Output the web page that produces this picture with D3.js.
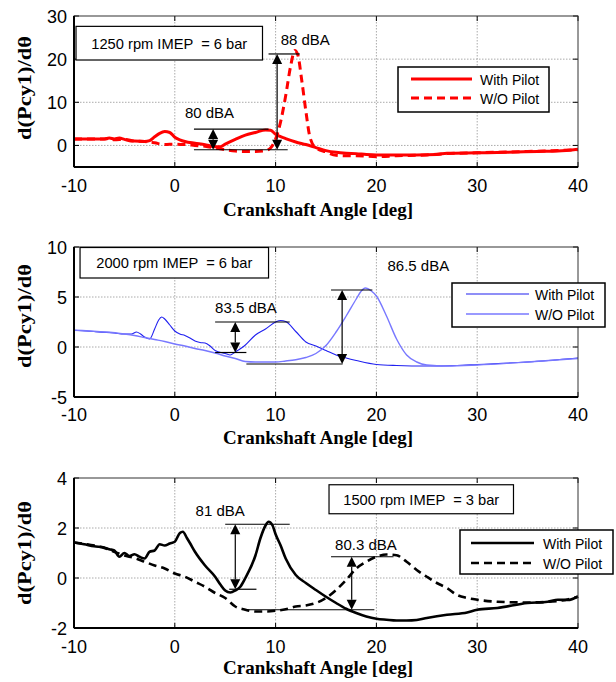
<!DOCTYPE html>
<html><head><meta charset="utf-8">
<script src="https://cdn.jsdelivr.net/npm/d3@7"></script>
<style>body{margin:0;background:#fff} text{white-space:pre}</style>
</head><body>
<svg id="c" width="616" height="682"></svg>
<script>
// ---------- DATA ----------
const xTickValues = [-10, 0, 10, 20, 30, 40];
const xTitle = "Crankshaft Angle [deg]";
const yTitle = "d(Pcy1)/dθ";
const legendLabels = ["With Pilot", "W/O Pilot"];

// Panel 1: 1250 rpm
const p1Title = "1250 rpm IMEP  = 6 bar";
const p1YTicks = [0, 10, 20, 30];
const p1WithAngle = [-10,-8,-7,-6.5,-6,-5.5,-5,-4.5,-4,-3,-2.5,-2,-1.5,-1,-0.5,0,0.5,1,2,3,3.5,4,4.5,5,6,7,8,9,9.5,10,11,12,13,14,15,16,17,18,19,20,22,24,26,27,30,33,36,38,40];
const p1WithVal   = [1.5,1.5,1.5,1.7,1.5,1.7,1.4,1.1,1.0,0.9,1.1,2.0,2.8,3.2,3.0,1.9,1.3,0.9,0.5,0.15,-0.1,-0.3,-0.3,0.3,1.4,2.4,3.0,3.6,3.5,2.6,1.6,0.8,0.2,-0.5,-1.2,-1.6,-1.8,-1.9,-2.1,-2.2,-2.2,-2.2,-2.1,-1.8,-1.7,-1.6,-1.4,-1.3,-0.9];
const p1WoAngle = [-10,-7,-6.5,-6,-5,-4,-3,-2,-1,0,1,2,3,4,5,6,7,8,9,9.5,10,10.5,11,11.5,11.9,12.2,12.6,13,13.4,14,15,16,17,18,20,22,25,27,30,35,40];
const p1WoVal   = [1.5,1.5,1.6,1.3,1.4,1.0,0.9,0.6,0.2,0.3,0.2,0,-0.2,-0.6,-1.0,-1.3,-1.4,-1.4,-1.2,-0.6,1.5,5.5,11.5,18.5,22,21,15,8,2,-0.6,-1.5,-2.3,-2.4,-2.4,-2.6,-2.4,-2.2,-1.9,-1.7,-1.4,-1.0];
const p1Notes = ["88 dBA", "80 dBA"];

// Panel 2: 2000 rpm
const p2Title = "2000 rpm IMEP  = 6 bar";
const p2YTicks = [-5, 0, 5, 10];
const p2WithAngle = [-10,-8,-6,-5,-4.3,-3.8,-3.4,-3,-2.5,-2,-1.6,-1.3,-1,-0.5,0,0.5,1,1.5,2,2.5,3,3.5,4,5,5.5,6,7,8,9,10,10.5,11,12,13,14,15,16,17,18,20,22,25,28,30,35,40];
const p2WithVal   = [1.67,1.55,1.4,1.3,1.3,1.5,1.3,1.0,0.8,1.8,2.7,3.0,2.8,2.2,1.6,1.3,1.15,0.9,0.6,0.45,0.4,0.1,-0.35,-0.65,-0.8,-0.5,0.2,1.2,1.8,2.5,2.65,2.55,1.55,0.5,0.1,-0.35,-0.8,-1.1,-1.35,-1.75,-1.85,-1.9,-1.85,-1.75,-1.5,-1.1];
const p2WoAngle = [-10,-5,-4,-3,-2,-1,0,1,2,3,4,5,6,7,8,10,11,12,13,14,15,16,17,18,18.5,18.9,19.5,20,21,22,23,24,25,27,30,35,40];
const p2WoVal   = [1.67,1.3,1.15,0.95,0.75,0.55,0.3,0.1,-0.15,-0.35,-0.6,-0.9,-1.15,-1.45,-1.5,-1.5,-1.4,-1.27,-1.05,-0.65,0.15,1.5,3.1,4.8,5.6,5.9,5.6,5.1,3.1,0.8,-0.8,-1.5,-1.8,-1.9,-1.8,-1.5,-1.15];
const p2Notes = ["86.5 dBA", "83.5 dBA"];

// Panel 3: 1500 rpm
const p3Title = "1500 rpm IMEP  = 3 bar";
const p3YTicks = [-2, 0, 2, 4];
const p3WithAngle = [-10,-9,-8,-7,-6.5,-6,-5.5,-5,-4.5,-4,-3.5,-3,-2.5,-2,-1.5,-1,-0.5,0,0.5,0.8,1.2,1.5,2,3,4,4.5,5,5.5,6,6.5,7,8,8.5,9,9.3,9.7,10,10.5,11,12,13,14,15,16,17,18,19,20,21,22,23,24,25,27,29,30,32,35,37,38,39,40];
const p3WithVal   = [1.42,1.35,1.27,1.22,1.15,1.1,0.85,1.0,0.88,0.95,0.85,0.78,1.05,1.1,1.35,1.3,1.38,1.45,1.8,1.85,1.6,1.4,1.05,0.5,0.05,-0.25,-0.5,-0.58,-0.5,-0.35,0,0.9,1.6,2.1,2.25,2.1,1.75,1.3,0.78,0.12,-0.2,-0.48,-0.75,-1.0,-1.23,-1.4,-1.54,-1.63,-1.67,-1.7,-1.7,-1.68,-1.6,-1.47,-1.38,-1.27,-1.2,-1.0,-0.95,-0.87,-0.88,-0.74];
const p3WoAngle = [-10,-7,-5,-4,-3,-2,-1,0,1,2,3,4,5,6,7,8,9,10,11,12,13,14,15,16,17,18,19,20,21,22,23,24,25,26,27,28,29,30,32,35,38,40];
const p3WoVal   = [1.42,1.2,0.9,0.8,0.65,0.5,0.38,0.18,0.05,-0.15,-0.35,-0.6,-0.8,-1.14,-1.27,-1.34,-1.34,-1.31,-1.25,-1.14,-1.1,-1.0,-0.8,-0.48,-0.08,0.38,0.65,0.85,0.94,0.91,0.65,0.32,0.05,-0.2,-0.4,-0.68,-0.8,-0.87,-0.95,-0.98,-0.92,-0.75];
const p3Notes = ["81 dBA", "80.3 dBA"];

// ---------- LAYOUT ----------
const L = 74, R = 578;
const svg = d3.select("#c");
const sansFont = "'Liberation Sans', Arial, sans-serif";
const serifFont = "'Liberation Serif', 'Times New Roman', serif";

const panels = [
  { top:16, bottom:167, domain:[-5,30], yTicks:p1YTicks, grid:[0,10,20],
    series:[{a:p1WithAngle,v:p1WithVal,color:"#ff0000",w:3,dash:null},
            {a:p1WoAngle,v:p1WoVal,color:"#ff0000",w:3,dash:"8,5"}],
    box:{x0:-9.8,x1:8.7,y0:27.6,y1:19.8,text:p1Title},
    legend:{x:398,y:67,w:151,h:45,l0:411,l1:472,tx:480,y1:79,y2:98,fs:14},
    notes:[{t:p1Notes[0],x:10.5,y:23.3},{t:p1Notes[1],x:1.0,y:6.3}],
    hl:[[9.3,12.4,21.2],[1.9,11.2,-1.0],[1.9,9.3,3.8]],
    arrows:[[10.15,21.2,-1.0],[3.8,3.8,-1.0]],
    tickBase:192, titleBase:216, yLabelC:88 },
  { top:247, bottom:397, domain:[-5,10], yTicks:p2YTicks, grid:[0,5],
    series:[{a:p2WithAngle,v:p2WithVal,color:"#2020f0",w:1.1,dash:null},
            {a:p2WoAngle,v:p2WoVal,color:"#7878ff",w:1.4,dash:null}],
    box:{x0:-9.4,x1:9.3,y0:9.95,y1:6.9,text:p2Title},
    legend:{x:452,y:283,w:153,h:44,l0:466,l1:529,tx:535,y1:294,y2:314,fs:14},
    notes:[{t:p2Notes[0],x:21.1,y:7.6},{t:p2Notes[1],x:4.0,y:3.45}],
    hl:[[4.0,11.4,2.5],[4.0,7.1,-0.55],[15.5,19.6,5.7],[7.1,16.65,-1.7]],
    arrows:[[6.0,2.5,-0.55],[16.6,5.7,-1.7]],
    tickBase:421, titleBase:444, yLabelC:316 },
  { top:478, bottom:628, domain:[-2,4], yTicks:p3YTicks, grid:[0,2],
    series:[{a:p3WithAngle,v:p3WithVal,color:"#000",w:2.6,dash:null},
            {a:p3WoAngle,v:p3WoVal,color:"#000",w:2.6,dash:"8,5"}],
    box:{x0:15.3,x1:33.6,y0:3.73,y1:2.57,text:p3Title},
    legend:{x:460,y:530,w:153,h:44,l0:471,l1:534,tx:543,y1:543,y2:563,fs:14},
    notes:[{t:p3Notes[0],x:2.06,y:2.5},{t:p3Notes[1],x:15.9,y:1.14}],
    hl:[[5.0,11.4,2.15],[5.4,8.1,-0.45],[15.5,21.7,0.85],[6.9,19.8,-1.27]],
    arrows:[[6.0,2.15,-0.45],[17.55,0.85,-1.27]],
    tickBase:653, titleBase:674, yLabelC:553 }
];

const x = d3.scaleLinear().domain([-10,40]).range([L,R]);

panels.forEach((p,pi)=>{
  const y = d3.scaleLinear().domain(p.domain).range([p.bottom,p.top]);
  const g = svg.append("g");

  // grid
  xTickValues.slice(1,-1).forEach(t=>{
    g.append("line").attr("x1",x(t)).attr("x2",x(t)).attr("y1",p.top).attr("y2",p.bottom)
      .attr("stroke","#aaa").attr("stroke-width",1).attr("stroke-dasharray","1.5,1.5");
  });
  p.grid.forEach(t=>{
    g.append("line").attr("x1",L).attr("x2",R).attr("y1",y(t)).attr("y2",y(t))
      .attr("stroke","#aaa").attr("stroke-width",1).attr("stroke-dasharray","1.5,1.5");
  });

  // ticks inward on four sides
  xTickValues.forEach(t=>{
    g.append("line").attr("x1",x(t)).attr("x2",x(t)).attr("y1",p.bottom).attr("y2",p.bottom-5).attr("stroke","#000");
    g.append("line").attr("x1",x(t)).attr("x2",x(t)).attr("y1",p.top).attr("y2",p.top+5).attr("stroke","#000");
  });
  p.yTicks.forEach(t=>{
    g.append("line").attr("x1",L).attr("x2",L+5).attr("y1",y(t)).attr("y2",y(t)).attr("stroke","#000");
    g.append("line").attr("x1",R).attr("x2",R-5).attr("y1",y(t)).attr("y2",y(t)).attr("stroke","#000");
  });

  // series
  p.series.forEach(s=>{
    const pts = s.a.map((a,i)=>[a,s.v[i]]);
    g.append("path").datum(pts)
      .attr("d", d3.line().x(d=>x(d[0])).y(d=>y(d[1])).curve(d3.curveMonotoneX))
      .attr("fill","none").attr("stroke",s.color).attr("stroke-width",s.w)
      .attr("stroke-dasharray",s.dash).attr("stroke-linejoin","round");
  });

  // frame
  g.append("rect").attr("x",L).attr("y",p.top).attr("width",R-L).attr("height",p.bottom-p.top)
    .attr("fill","none").attr("stroke","#333").attr("stroke-width",1);
  g.append("line").attr("x1",L).attr("x2",L).attr("y1",p.top).attr("y2",p.bottom).attr("stroke","#000").attr("stroke-width",2);
  g.append("line").attr("x1",L).attr("x2",R).attr("y1",p.bottom).attr("y2",p.bottom).attr("stroke","#000").attr("stroke-width",2);

  // tick labels
  xTickValues.forEach(t=>{
    g.append("text").attr("x",x(t)).attr("y",p.tickBase).attr("text-anchor","middle")
      .attr("font-family",sansFont).attr("font-size",18).text(String(t));
  });
  p.yTicks.forEach(t=>{
    g.append("text").attr("x",L-7).attr("y",y(t)+6.5).attr("text-anchor","end")
      .attr("font-family",sansFont).attr("font-size",18).text(String(t));
  });

  // axis titles
  g.append("text").attr("x",(L+R)/2-8).attr("y",p.titleBase).attr("text-anchor","middle")
    .attr("font-family",serifFont).attr("font-weight","bold").attr("font-size",19).text(xTitle);
  g.append("text").attr("transform",`translate(31,${p.yLabelC}) rotate(-90)`).attr("text-anchor","middle")
    .attr("font-family",serifFont).attr("font-weight","bold").attr("font-size",19)
    .attr("textLength",104).attr("lengthAdjust","spacingAndGlyphs").text(yTitle);

  // annotation lines
  p.hl.forEach(h=>{
    g.append("line").attr("x1",x(h[0])).attr("x2",x(h[1])).attr("y1",y(h[2])).attr("y2",y(h[2]))
      .attr("stroke","#000").attr("stroke-width",1.2);
  });
  p.arrows.forEach(a=>{
    const ax = x(a[0]), yt = y(a[1]), yb = y(a[2]);
    const hl = Math.min(10,(yb-yt)/2), hw = 5;
    g.append("line").attr("x1",ax).attr("x2",ax).attr("y1",yt+hl).attr("y2",yb-hl).attr("stroke","#000").attr("stroke-width",1.2);
    g.append("path").attr("d",`M${ax},${yt}L${ax-hw},${yt+hl}L${ax+hw},${yt+hl}Z`).attr("fill","#000");
    g.append("path").attr("d",`M${ax},${yb}L${ax-hw},${yb-hl}L${ax+hw},${yb-hl}Z`).attr("fill","#000");
  });
  p.notes.forEach(n=>{
    g.append("text").attr("x",x(n.x)).attr("y",y(n.y)).attr("font-family",sansFont)
      .attr("font-size",15).text(n.t);
  });

  // condition box
  const b = p.box;
  g.append("rect").attr("x",x(b.x0)).attr("y",y(b.y0)).attr("width",x(b.x1)-x(b.x0)).attr("height",y(b.y1)-y(b.y0))
    .attr("fill","#fff").attr("stroke","#000").attr("stroke-width",1.2);
  g.append("text").attr("x",(x(b.x0)+x(b.x1))/2).attr("y",(y(b.y0)+y(b.y1))/2+5.5).attr("text-anchor","middle")
    .attr("font-family",sansFont).attr("font-size",15).attr("textLength",156).attr("lengthAdjust","spacingAndGlyphs").text(b.text);

  // legend
  const lg = p.legend;
  g.append("rect").attr("x",lg.x).attr("y",lg.y).attr("width",lg.w).attr("height",lg.h)
    .attr("fill","#fff").attr("stroke","#000").attr("stroke-width",1.5);
  [lg.y1,lg.y2].forEach((yy,i)=>{
    const s = p.series[i];
    g.append("line").attr("x1",lg.l0).attr("x2",lg.l1).attr("y1",yy).attr("y2",yy)
      .attr("stroke",s.color).attr("stroke-width",s.w).attr("stroke-dasharray",s.dash);
    g.append("text").attr("x",lg.tx).attr("y",yy+5.5).attr("font-family",sansFont)
      .attr("font-size",lg.fs).text(legendLabels[i]);
  });
});
</script>
</body></html>
